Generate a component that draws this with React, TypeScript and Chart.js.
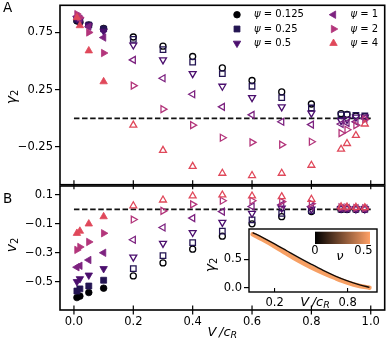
import React, { useEffect, useRef } from 'react';
import { Chart, registerables } from 'chart.js';

Chart.register(...registerables);

const FONT = 'DejaVu Sans';

// ---------------- data ----------------
const vFilled = [0.01, 0.02, 0.05, 0.1];
const vOpen = [0.2, 0.3, 0.4, 0.5, 0.6, 0.7, 0.8, 0.9, 0.92, 0.95, 0.98];
const psiLabels = ['0.125', '0.25', '0.5', '1', '2', '4'];
const psiColors = ['#000004', '#231452', '#4b0f6e', '#7d2380', '#b3357b', '#e0485a'];

// panel A: gamma_2
const gammaFilledPsi0125 = [0.85, 0.84, 0.815, 0.785];
const gammaFilledPsi025 = [0.86, 0.85, 0.815, 0.78];
const gammaFilledPsi05 = [0.87, 0.86, 0.81, 0.76];
const gammaFilledPsi1 = [0.89, 0.87, 0.8, 0.705];
const gammaFilledPsi2 = [0.91, 0.88, 0.75, 0.57];
const gammaFilledPsi4 = [0.88, 0.81, 0.59, 0.32];

const gammaOpenPsi0125 = [0.71, 0.63, 0.54, 0.44, 0.33, 0.23, 0.125, 0.04, 0.035, 0.02, 0.015];
const gammaOpenPsi025 = [0.69, 0.6, 0.49, 0.39, 0.28, 0.18, 0.09, 0.03, 0.03, 0.025, 0.02];
const gammaOpenPsi05 = [0.64, 0.51, 0.39, 0.28, 0.18, 0.1, 0.045, -0.02, -0.01, 0.01, 0.01];
const gammaOpenPsi1 = [0.51, 0.35, 0.21, 0.1, 0.03, -0.03, -0.055, -0.05, -0.04, -0.03, 0.0];
const gammaOpenPsi2 = [0.285, 0.08, -0.06, -0.17, -0.21, -0.23, -0.205, -0.13, -0.1, -0.06, -0.01];
const gammaOpenPsi4 = [-0.06, -0.28, -0.42, -0.48, -0.5, -0.48, -0.41, -0.27, -0.22, -0.15, -0.05];

// panel B: v_2
const vFilledPsi0125 = [-0.61, -0.6, -0.575, -0.545];
const vFilledPsi025 = [-0.565, -0.55, -0.53, -0.49];
const vFilledPsi05 = [-0.5, -0.48, -0.455, -0.41];
const vFilledPsi1 = [-0.4, -0.39, -0.35, -0.3];
const vFilledPsi2 = [-0.28, -0.26, -0.225, -0.165];
const vFilledPsi4 = [-0.165, -0.15, -0.1, -0.05];

const vOpenPsi0125 = [-0.46, -0.37, -0.275, -0.185, -0.1, -0.05, -0.015, 0.0, 0.0, 0.0, 0.0];
const vOpenPsi025 = [-0.41, -0.32, -0.23, -0.15, -0.073, -0.027, -0.008, 0.003, 0.003, 0.002, 0.002];
const vOpenPsi05 = [-0.33, -0.235, -0.16, -0.09, -0.027, 0.008, 0.002, 0.006, 0.006, 0.004, 0.004];
const vOpenPsi1 = [-0.21, -0.125, -0.06, -0.015, 0.02, 0.031, 0.02, 0.01, 0.01, 0.008, 0.006];
const vOpenPsi2 = [-0.07, -0.01, 0.035, 0.06, 0.06, 0.054, 0.04, 0.014, 0.012, 0.01, 0.008];
const vOpenPsi4 = [0.025, 0.065, 0.093, 0.1, 0.093, 0.088, 0.07, 0.018, 0.016, 0.014, 0.012];

// inset: gamma_2 vs V for nu = 0 and nu = 0.5
const insetV = [0.02, 0.1, 0.2, 0.3, 0.4, 0.5, 0.6, 0.7, 0.8, 0.9, 0.98];
const insetNu0 = [0.97, 0.885, 0.77, 0.65, 0.53, 0.415, 0.305, 0.205, 0.12, 0.05, 0.005];
const insetNu05 = [0.94, 0.85, 0.73, 0.6, 0.475, 0.36, 0.26, 0.17, 0.09, 0.03, 0.0];

// reference line and ticks
const refLineX = [0, 1];
const xTicks = [0, 0.2, 0.4, 0.6, 0.8, 1.0];
const yTicksA = [0.75, 0.25, -0.25];
const yTicksB = [0.1, -0.1, -0.3, -0.5];
const insetXTicks = [0.2, 0.8];
const insetYTicks = [0.0, 0.5];
const nuRange = [0, 0.5];

const gammaFilled = [gammaFilledPsi0125, gammaFilledPsi025, gammaFilledPsi05, gammaFilledPsi1, gammaFilledPsi2, gammaFilledPsi4];
const gammaOpen = [gammaOpenPsi0125, gammaOpenPsi025, gammaOpenPsi05, gammaOpenPsi1, gammaOpenPsi2, gammaOpenPsi4];
const vFilledAll = [vFilledPsi0125, vFilledPsi025, vFilledPsi05, vFilledPsi1, vFilledPsi2, vFilledPsi4];
const vOpenAll = [vOpenPsi0125, vOpenPsi025, vOpenPsi05, vOpenPsi1, vOpenPsi2, vOpenPsi4];

// ---------------- styles ----------------
type Marker = { style: string; rot: number; r: number };
const markers: Marker[] = [
  { style: 'circle', rot: 0, r: 3.0 },
  { style: 'rect', rot: 0, r: 3.9 },
  { style: 'triangle', rot: 180, r: 4.0 },
  { style: 'triangle', rot: 270, r: 4.0 },
  { style: 'triangle', rot: 90, r: 4.0 },
  { style: 'triangle', rot: 0, r: 4.0 },
];

const minus = (s: string) => s.replace('-', '\u2212');
const fmt = (v: number, d: number) => minus(Number(v).toFixed(d));

function scatterSet(xs: number[], ys: number[], i: number, filled: boolean) {
  const c = psiColors[i];
  const m = markers[i];
  return {
    type: 'scatter' as const,
    data: xs.map((x, k) => ({ x, y: ys[k] })),
    showLine: false,
    pointStyle: m.style,
    pointRotation: m.rot,
    pointRadius: filled ? m.r + 0.3 : m.r,
    pointBackgroundColor: filled ? c : 'rgba(255,255,255,0)',
    pointBorderColor: c,
    pointBorderWidth: filled ? 0.8 : 1.3,
    order: 20 - i,
  };
}

function refLine() {
  return {
    type: 'line' as const,
    data: refLineX.map((x) => ({ x, y: 0 })),
    borderColor: '#111',
    borderWidth: 1.8,
    borderDash: [5.5, 2.6],
    pointRadius: 0,
    order: 100,
  };
}

type Part = { t: string; font: string; dy?: number };
function drawRich(ctx: CanvasRenderingContext2D, parts: Part[], x: number, y: number, align: 'left' | 'center') {
  let w = 0;
  for (const p of parts) {
    ctx.font = p.font;
    w += ctx.measureText(p.t).width;
  }
  let cx = align === 'center' ? x - w / 2 : x;
  ctx.textAlign = 'left';
  ctx.textBaseline = 'middle';
  for (const p of parts) {
    ctx.font = p.font;
    ctx.fillText(p.t, cx, y + (p.dy || 0));
    cx += ctx.measureText(p.t).width;
  }
}
function drawRotated(ctx: CanvasRenderingContext2D, parts: Part[], x: number, y: number) {
  ctx.save();
  ctx.translate(x, y);
  ctx.rotate(-Math.PI / 2);
  drawRich(ctx, parts, 0, 0, 'center');
  ctx.restore();
}
function drawMarker(ctx: CanvasRenderingContext2D, m: Marker, x: number, y: number, color: string) {
  ctx.save();
  ctx.beginPath();
  const r = m.r + 0.3;
  if (m.style === 'circle') ctx.arc(x, y, r, 0, Math.PI * 2);
  else if (m.style === 'rect') {
    const s = r * Math.SQRT1_2;
    ctx.rect(x - s, y - s, 2 * s, 2 * s);
  } else {
    let rad = (m.rot * Math.PI) / 180;
    for (let k = 0; k < 3; k++) {
      const px = x + Math.sin(rad) * r;
      const py = y - Math.cos(rad) * r;
      if (k === 0) ctx.moveTo(px, py);
      else ctx.lineTo(px, py);
      rad += (2 * Math.PI) / 3;
    }
    ctx.closePath();
  }
  ctx.fillStyle = color;
  ctx.strokeStyle = color;
  ctx.lineWidth = 0.8;
  ctx.fill();
  ctx.stroke();
  ctx.restore();
}

const titleVc: Part[] = [
  { t: 'V', font: `italic 13px ${FONT}` },
  { t: '\u2009/', font: `italic 13px ${FONT}` },
  { t: 'c', font: `italic 13px ${FONT}` },
  { t: 'R', font: `italic 9.5px ${FONT}`, dy: 3 },
];
const titleGamma: Part[] = [
  { t: '\u03b3', font: `italic 14px ${FONT}` },
  { t: '2', font: `10px ${FONT}`, dy: 3.5 },
];
const titleV2: Part[] = [
  { t: 'v', font: `italic 14px ${FONT}` },
  { t: '2', font: `10px ${FONT}`, dy: 3.5 },
];

const tickFont = { family: FONT, size: 11.5 };

function yScale(min: number, max: number, ticks: number[], dec: number, width: number) {
  return {
    type: 'linear' as const,
    min,
    max,
    afterBuildTicks: (s: any) => {
      s.ticks = ticks.map((v) => ({ value: v }));
    },
    afterFit: (s: any) => {
      s.width = width;
      s.paddingTop = 0;
      s.paddingBottom = 0;
    },
    grid: { display: true, drawOnChartArea: false, drawTicks: true, tickLength: 5, color: '#000', lineWidth: 1.2 },
    border: { display: false },
    ticks: { padding: 2, color: '#000', font: tickFont, callback: (v: any) => fmt(v, dec) },
  };
}

const plugA = {
  id: 'decoA',
  afterDraw(chart: any) {
    const { ctx, chartArea: ca, scales } = chart;
    ctx.save();
    ctx.strokeStyle = '#000';
    ctx.lineWidth = 1.6;
    ctx.strokeRect(ca.left, ca.top, ca.right - ca.left, ca.bottom - ca.top);
    ctx.lineWidth = 1.2;
    for (const v of xTicks) {
      const px = scales.x.getPixelForValue(v);
      ctx.beginPath();
      ctx.moveTo(px, ca.bottom - 4.5);
      ctx.lineTo(px, ca.bottom + 4.5);
      ctx.stroke();
    }
    ctx.fillStyle = '#000';
    drawRich(ctx, [{ t: 'A', font: `13.5px ${FONT}` }], 3, 8.5, 'left');
    drawRotated(ctx, titleGamma, 12, 97);
    // legend
    const cols = [237, 333.5];
    const rows = [14.7, 29, 43.3];
    psiLabels.forEach((lab, i) => {
      const cx = cols[Math.floor(i / 3)];
      const cy = rows[i % 3];
      drawMarker(ctx, markers[i], cx, cy, psiColors[i]);
      ctx.fillStyle = '#000';
      drawRich(
        ctx,
        [
          { t: '\u03c8', font: `italic 10px ${FONT}` },
          { t: ' = ' + lab, font: `10px ${FONT}` },
        ],
        cx + 17,
        cy,
        'left'
      );
    });
    ctx.restore();
  },
};

const plugB = {
  id: 'decoB',
  afterDraw(chart: any) {
    const { ctx, chartArea: ca, scales } = chart;
    ctx.save();
    ctx.strokeStyle = '#000';
    ctx.lineWidth = 1.6;
    ctx.strokeRect(ca.left, ca.top, ca.right - ca.left, ca.bottom - ca.top);
    ctx.lineWidth = 1.2;
    for (const v of xTicks) {
      const px = scales.x.getPixelForValue(v);
      ctx.beginPath();
      ctx.moveTo(px, ca.bottom - 4.5);
      ctx.lineTo(px, ca.bottom + 4.5);
      ctx.stroke();
    }
    ctx.fillStyle = '#000';
    drawRich(ctx, [{ t: 'B', font: `13.5px ${FONT}` }], 3, 19.5, 'left');
    drawRotated(ctx, titleV2, 12, 65);
    drawRich(ctx, titleVc, scales.x.getPixelForValue(0.5), 153, 'center');
    ctx.restore();
  },
};

const plugInset = {
  id: 'decoInset',
  beforeDraw(chart: any) {
    const { ctx, chartArea: ca } = chart;
    ctx.save();
    ctx.fillStyle = '#fff';
    ctx.fillRect(ca.left, ca.top, ca.right - ca.left, ca.bottom - ca.top);
    ctx.restore();
  },
  afterDraw(chart: any) {
    const { ctx, chartArea: ca, scales } = chart;
    ctx.save();
    ctx.strokeStyle = '#000';
    ctx.lineWidth = 1.4;
    ctx.strokeRect(ca.left, ca.top, ca.right - ca.left, ca.bottom - ca.top);
    ctx.lineWidth = 1.1;
    for (const v of insetXTicks) {
      const px = scales.x.getPixelForValue(v);
      ctx.beginPath();
      ctx.moveTo(px, ca.bottom);
      ctx.lineTo(px, ca.bottom - 4);
      ctx.stroke();
    }
    // colorbar
    const bx = 115, by = 6.7, bw = 55, bh = 12.3;
    const g = ctx.createLinearGradient(bx, 0, bx + bw, 0);
    g.addColorStop(0, '#000000');
    g.addColorStop(1, '#ffa066');
    ctx.fillStyle = g;
    ctx.fillRect(bx, by, bw, bh);
    ctx.fillStyle = '#000';
    drawRich(ctx, [{ t: String(nuRange[0]), font: `11.5px ${FONT}` }], bx, 26.5, 'center');
    drawRich(ctx, [{ t: String(nuRange[1]), font: `11.5px ${FONT}` }], bx + 48.5, 26.5, 'center');
    drawRich(ctx, [{ t: '\u03bd', font: `italic 13px ${FONT}` }], bx + 25, 31.5, 'center');
    drawRich(ctx, titleVc, 115, 78, 'center');
    drawRotated(ctx, titleGamma, 11, 40);
    ctx.restore();
  },
};

const common = {
  animation: false as const,
  responsive: false,
  maintainAspectRatio: false,
  devicePixelRatio: 1,
  events: [] as any[],
  plugins: { legend: { display: false }, tooltip: { enabled: false } },
};

export default function App() {
  const refA = useRef<HTMLCanvasElement>(null);
  const refB = useRef<HTMLCanvasElement>(null);
  const refI = useRef<HTMLCanvasElement>(null);

  useEffect(() => {
    Chart.defaults.font.family = FONT;
    Chart.defaults.color = '#000';

    const dsA: any[] = [refLine()];
    const dsB: any[] = [refLine()];
    for (let i = 0; i < 6; i++) {
      dsA.push(scatterSet(vFilled, gammaFilled[i], i, true));
      dsA.push(scatterSet(vOpen, gammaOpen[i], i, false));
      dsB.push(scatterSet(vFilled, vFilledAll[i], i, true));
      dsB.push(scatterSet(vOpen, vOpenAll[i], i, false));
    }

    const chartA = new Chart(refA.current!, {
      type: 'scatter',
      data: { datasets: dsA },
      options: {
        ...common,
        layout: { padding: { left: 0, right: 3, top: 1, bottom: 4 } },
        scales: {
          x: {
            type: 'linear',
            min: -0.047,
            max: 1.047,
            ticks: { display: false },
            grid: { display: false, drawTicks: false },
            border: { display: false },
            afterFit: (s: any) => {
              s.height = 0;
              s.paddingLeft = 0;
              s.paddingRight = 0;
            },
          },
          y: yScale(-0.58, 0.987, yTicksA, 2, 60),
        },
      } as any,
      plugins: [plugA],
    });

    const chartB = new Chart(refB.current!, {
      type: 'scatter',
      data: { datasets: dsB },
      options: {
        ...common,
        layout: { padding: { left: 0, right: 3, top: 6, bottom: 0 } },
        scales: {
          x: {
            type: 'linear',
            min: -0.047,
            max: 1.047,
            afterBuildTicks: (s: any) => {
              s.ticks = xTicks.map((v) => ({ value: v }));
            },
            afterFit: (s: any) => {
              s.height = 36;
              s.paddingLeft = 0;
              s.paddingRight = 0;
            },
            grid: { display: false, drawTicks: false },
            border: { display: false },
            ticks: { padding: 5, autoSkip: false, maxRotation: 0, color: '#000', font: tickFont, callback: (v: any) => fmt(v, 1) },
          },
          y: yScale(-0.696, 0.162, yTicksB, 1, 60),
        },
      } as any,
      plugins: [plugB],
    });

    const chartI = new Chart(refI.current!, {
      type: 'line',
      data: {
        datasets: [
          {
            data: insetV.map((x, k) => ({ x, y: insetNu05[k] })),
            borderColor: '#f7a064',
            borderWidth: 4.5,
            borderCapStyle: 'round',
            pointRadius: 0,
            tension: 0.35,
            order: 2,
          },
          {
            data: insetV.map((x, k) => ({ x, y: insetNu0[k] })),
            borderColor: '#140b06',
            borderWidth: 1.4,
            pointRadius: 0,
            tension: 0.35,
            order: 1,
          },
        ],
      },
      options: {
        ...common,
        layout: { padding: { left: 0, right: 11, top: 4, bottom: 0 } },
        scales: {
          x: {
            type: 'linear',
            min: -0.01,
            max: 1.042,
            afterBuildTicks: (s: any) => {
              s.ticks = insetXTicks.map((v) => ({ value: v }));
            },
            afterFit: (s: any) => {
              s.height = 23;
              s.paddingLeft = 0;
              s.paddingRight = 0;
            },
            grid: { display: false, drawTicks: false },
            border: { display: false },
            ticks: { padding: 4, autoSkip: false, maxRotation: 0, color: '#000', font: tickFont, callback: (v: any) => fmt(v, 1) },
          },
          y: yScale(-0.076, 1.033, insetYTicks, 1, 49),
        },
      } as any,
      plugins: [plugInset],
    });

    return () => {
      chartA.destroy();
      chartB.destroy();
      chartI.destroy();
    };
  }, []);

  return (
    <div style={{ position: 'absolute', left: 0, top: 0, width: 390, height: 346, background: '#fff', overflow: 'hidden' }}>
      <canvas ref={refA} width={390} height={190} style={{ position: 'absolute', left: 0, top: 0 }} />
      <canvas ref={refB} width={390} height={166} style={{ position: 'absolute', left: 0, top: 180 }} />
      <canvas ref={refI} width={188} height={90} style={{ position: 'absolute', left: 200, top: 225 }} />
    </div>
  );
}
